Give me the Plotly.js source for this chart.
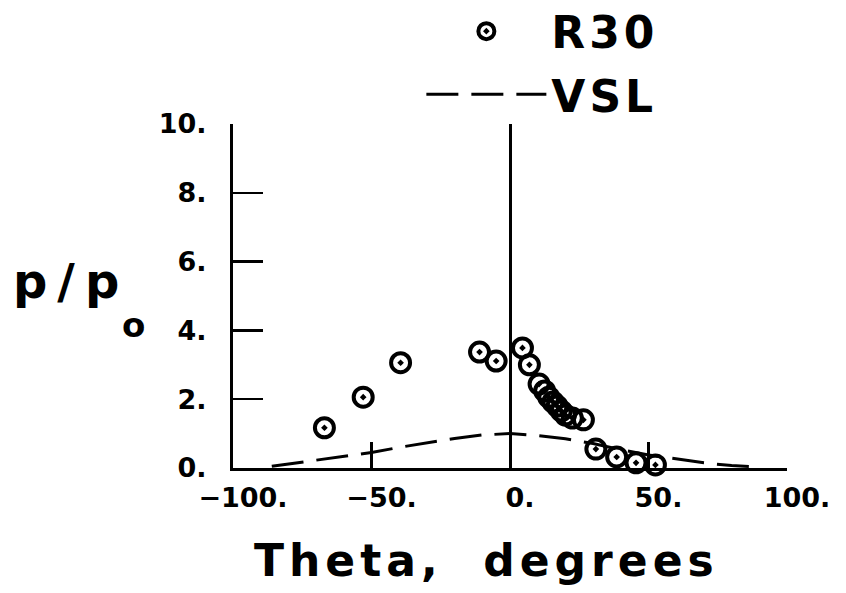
<!DOCTYPE html>
<html>
<head>
<meta charset="utf-8">
<script src="https://cdn.plot.ly/plotly-3.0.1.min.js"></script>
<style>
  html, body { margin: 0; padding: 0; background: #fff; }
  #chart { width: 846px; height: 593px; }
  text.legendtext { letter-spacing: 4px; }
</style>
</head>
<body>
<div id="chart"></div>
<script>
// ---- data ----
const thetaR30 = [-67, -53, -39.5, -11, -5, 4.5, 7, 10.5, 12.5, 14, 15.5, 17, 18.5, 20, 22.5, 26.5, 31, 38.5, 45.5, 52.5];
const pR30     = [1.17, 2.06, 3.06, 3.37, 3.11, 3.49, 3.0, 2.44, 2.24, 2.06, 1.92, 1.80, 1.66, 1.54, 1.45, 1.40, 0.55, 0.32, 0.15, 0.09];

const thetaVSL = [-86, -70, -60, -50, -40, -30, -20, -10, 0, 10, 20, 30, 40, 50, 60, 70, 80, 90];
const pVSL     = [0.05, 0.22, 0.34, 0.45, 0.60, 0.74, 0.86, 0.96, 1.00, 0.94, 0.85, 0.71, 0.53, 0.38, 0.26, 0.15, 0.07, 0.03];

const xTickVals = [-100, -50, 0, 50, 100];
const xTickText = ['\u2212100.', '\u221250.', '0.', '50.', '100.'];
const yTickVals = [0, 2, 4, 6, 8, 10];
const yTickText = ['0.', '2.', '4.', '6.', '8.', '10.'];

const seriesNames = ['R30', 'VSL'];
const xTitle = 'Theta,\u00A0\u00A0degrees';

const FONT = 'DejaVu Sans, sans-serif';

const traces = [
  {
    x: thetaR30, y: pR30, name: seriesNames[0], type: 'scatter', mode: 'markers', legendgroup: 'g1',
    marker: { symbol: 'circle-open-dot', size: 19, color: '#000', line: { width: 4, color: '#000' } },
    cliponaxis: false
  },
  {
    x: thetaVSL, y: pVSL, name: seriesNames[1], type: 'scatter', mode: 'lines', legendgroup: 'g2',
    line: { color: '#000', width: 3, dash: '32px,13px' },
    cliponaxis: false
  }
];

const layout = {
  width: 846, height: 593,
  margin: { l: 233, r: 59, t: 124, b: 125, autoexpand: false },
  paper_bgcolor: '#fff', plot_bgcolor: '#fff',
  font: { family: FONT, color: '#000' },
  showlegend: true,
  legend: {
    x: 0.34, y: 1.372, xanchor: 'left', yanchor: 'top',
    font: { family: FONT, size: 44, color: '#000', weight: 'bold' },
    itemwidth: 120, bgcolor: 'rgba(0,0,0,0)', tracegroupgap: 3
  },
  xaxis: {
    range: [-100, 100], tickvals: xTickVals, ticktext: xTickText,
    showgrid: false, showline: true, linewidth: 3, linecolor: '#000',
    ticks: 'inside', ticklen: 26, tickwidth: 2.5, tickcolor: '#000',
    zeroline: true, zerolinewidth: 3, zerolinecolor: '#000',
    tickfont: { family: FONT, size: 27, color: '#000', weight: 'bold' },
    ticklabelshift: 10, ticklabelstandoff: 4
  },
  yaxis: {
    range: [0, 10], tickvals: yTickVals, ticktext: yTickText,
    showgrid: false, showline: true, linewidth: 3, linecolor: '#000',
    ticks: 'inside', ticklen: 30, tickwidth: 2.5, tickcolor: '#000',
    zeroline: false,
    tickfont: { family: FONT, size: 27, color: '#000', weight: 'bold' },
    ticklabelstandoff: 18
  },
  annotations: [
    { text: '<span style="letter-spacing:5px">' + xTitle + '</span>', xref: 'paper', yref: 'paper',
      x: 0.458, y: -0.19, xanchor: 'center', yanchor: 'top',
      showarrow: false, font: { family: FONT, size: 44, color: '#000', weight: 'bold' } },
    { text: '<span style="letter-spacing:10px">p/p</span>', xref: 'paper', yref: 'paper',
      x: -0.40, y: 0.544, xanchor: 'left', yanchor: 'middle',
      showarrow: false, font: { family: FONT, size: 48, color: '#000', weight: 'bold' } },
    { text: 'o', xref: 'paper', yref: 'paper', x: -0.18, y: 0.416, xanchor: 'center', yanchor: 'middle',
      showarrow: false, font: { family: FONT, size: 34, color: '#000', weight: 'bold' } }
  ]
};

Plotly.newPlot('chart', traces, layout, { staticPlot: true, displayModeBar: false });
</script>
</body>
</html>
